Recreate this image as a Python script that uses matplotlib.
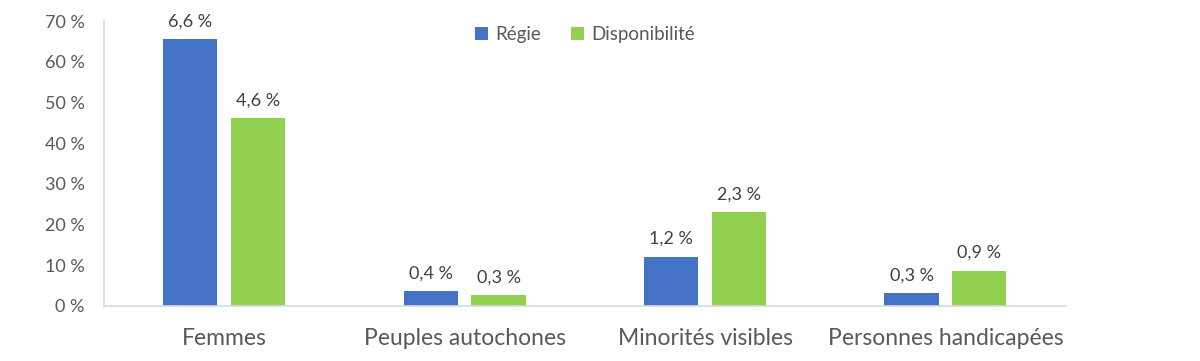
"""Représentation : Régie vs disponibilité, par groupe désigné."""

import matplotlib
matplotlib.use("Agg")
import matplotlib.pyplot as plt
import numpy as np

categories = ["Femmes", "Peuples autochones", "Minorités visibles", "Personnes handicapées"]
regie = [65.6, 3.6, 12.1, 3.2]
disponibilite = [46.2, 2.6, 23.1, 8.7]
regie_labels = ["6,6 %", "0,4 %", "1,2 %", "0,3 %"]
dispo_labels = ["4,6 %", "0,3 %", "2,3 %", "0,9 %"]
yticks = [0, 10, 20, 30, 40, 50, 60, 70]

plt.rcParams["font.family"] = ["Lato", "DejaVu Sans"]
text_color = "#595959"

fig = plt.figure(figsize=(12, 3.61), dpi=100)
ax = fig.add_axes([0.0867, 0.1524, 0.8013, 0.7894])

x = np.arange(len(categories))
width = 0.225
offset = 0.141
b1 = ax.bar(x - offset, regie, width, color="#4472C4", label="Régie")
b2 = ax.bar(x + offset, disponibilite, width, color="#92D050", label="Disponibilité")

for bars, labels in ((b1, regie_labels), (b2, dispo_labels)):
    for bar, lab in zip(bars, labels):
        ax.annotate(lab, (bar.get_x() + bar.get_width() / 2, bar.get_height()),
                    xytext=(0, 7), textcoords="offset points",
                    ha="center", va="bottom", fontsize=13, color="#404040")

ax.set_xlim(-0.5, len(categories) - 0.5)
ax.set_ylim(0, 70)
ax.set_yticks(yticks)
ax.set_yticklabels([f"{v} %" for v in yticks])
ax.set_xticks(x)
ax.set_xticklabels(categories, fontsize=16.5)
ax.tick_params(axis="both", length=0, colors=text_color)
ax.tick_params(axis="y", labelsize=13, pad=14)
ax.tick_params(axis="x", pad=16)

for side in ("top", "right"):
    ax.spines[side].set_visible(False)
for side in ("left", "bottom"):
    ax.spines[side].set_color("#D9D9D9")
    ax.spines[side].set_linewidth(1.2)

leg = ax.legend(loc="upper center", bbox_to_anchor=(0.5, 1.04), ncol=2, frameon=False,
                fontsize=13.5, handlelength=0.7, handleheight=0.7, handletextpad=0.4,
                columnspacing=1.6)
for t in leg.get_texts():
    t.set_color(text_color)

fig.savefig("out.png", dpi=100)
